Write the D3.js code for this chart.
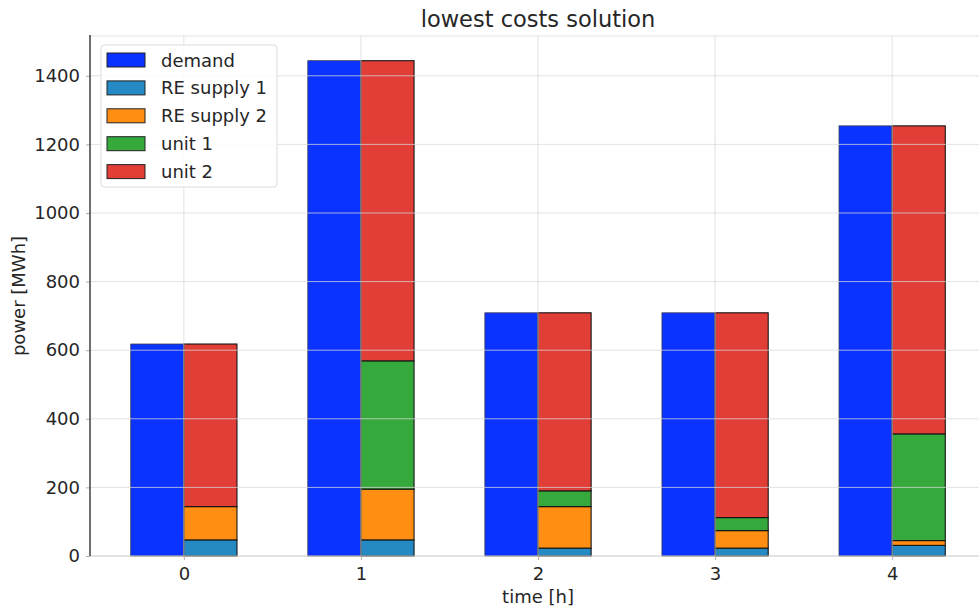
<!DOCTYPE html>
<html>
<head>
<meta charset="utf-8">
<script src="https://cdn.jsdelivr.net/npm/d3@7"></script>
<style>
  html, body { margin: 0; padding: 0; background: #fff; }
  svg { display: block; font-family: "DejaVu Sans", sans-serif; }
</style>
</head>
<body>
<svg id="chart" width="979" height="610"></svg>
<script>
// Hours of the dispatch horizon
const hours = [0, 1, 2, 3, 4];
// Demand per hour [MWh]
const demand = [618, 1444, 709, 709, 1254];
// Supply per source [MWh], stacked in this order
const reSupply1 = [47, 47, 23, 23, 31];
const reSupply2 = [97, 148, 121, 51, 14];
const unit1 = [0, 374, 46, 38, 311];
const unit2 = [474, 875, 519, 597, 898];
const yTicks = [0, 200, 400, 600, 800, 1000, 1200, 1400];

const seriesNames = ["RE supply 1", "RE supply 2", "unit 1", "unit 2"];
const seriesValues = [reSupply1, reSupply2, unit1, unit2];
const colors = {
  "demand": "#0a33ff",
  "RE supply 1": "#2589c4",
  "RE supply 2": "#ff8e12",
  "unit 1": "#35a93c",
  "unit 2": "#e03e37"
};

const svg = d3.select("#chart");
const plotLeft = 90, plotRight = 986, plotTop = 36, plotBottom = 556;
const barW = 0.3;
const textColor = "#262626";

const x = d3.scaleLinear().domain([-0.53, 4.53]).range([plotLeft, plotRight]);
const y = d3.scaleLinear().domain([0, 1516]).range([plotBottom, plotTop]);

// Stack table for the supply bars
const rows = hours.map((h, i) => {
  const r = { hour: h };
  seriesNames.forEach((n, k) => r[n] = seriesValues[k][i]);
  return r;
});
const stacked = d3.stack().keys(seriesNames)(rows);

// Demand bars (left of each tick)
svg.append("g").selectAll("rect").data(hours).join("rect")
  .attr("x", d => x(d - barW))
  .attr("width", x(barW) - x(0))
  .attr("y", (d, i) => y(demand[i]))
  .attr("height", (d, i) => y(0) - y(demand[i]))
  .attr("fill", colors["demand"])
  .attr("stroke", "#3a3a55").attr("stroke-width", 0.8);

// Supply stacks (right of each tick)
svg.append("g").selectAll("g").data(stacked).join("g")
  .attr("fill", s => colors[s.key])
  .selectAll("rect").data(s => s).join("rect")
  .attr("x", d => x(d.data.hour))
  .attr("width", x(barW) - x(0))
  .attr("y", d => y(d[1]))
  .attr("height", d => y(d[0]) - y(d[1]))
  .attr("stroke", "#151515").attr("stroke-width", 1.1);

// Grid over the bars
const grid = svg.append("g").attr("stroke", "#d8d8d8").attr("stroke-opacity", 0.75).attr("stroke-width", 1);
grid.selectAll("line.h").data(yTicks.slice(1)).join("line")
  .attr("x1", plotLeft).attr("x2", plotRight)
  .attr("y1", d => y(d)).attr("y2", d => y(d));
grid.selectAll("line.v").data(hours).join("line")
  .attr("x1", d => x(d)).attr("x2", d => x(d))
  .attr("y1", plotTop).attr("y2", plotBottom);

// Frame
svg.append("line").attr("x1", plotLeft).attr("x2", plotRight).attr("y1", plotTop).attr("y2", plotTop)
  .attr("stroke", "#e2e2e2");
svg.append("line").attr("x1", plotLeft).attr("x2", plotRight).attr("y1", plotBottom).attr("y2", plotBottom)
  .attr("stroke", "#c8c8c8").attr("stroke-width", 1.2);

// Axes
const yAxis = svg.append("g").attr("transform", `translate(${plotLeft},0)`)
  .call(d3.axisLeft(y).tickValues(yTicks).tickFormat(d3.format("d")).tickSize(4).tickPadding(6));
const xAxis = svg.append("g").attr("transform", `translate(0,${plotBottom})`)
  .call(d3.axisBottom(x).tickValues(hours).tickFormat(d3.format("d")).tickSize(4).tickPadding(7));
[yAxis, xAxis].forEach(a => {
  a.select(".domain").remove();
  a.selectAll(".tick line").attr("stroke", "#b0b0b0");
  a.selectAll(".tick text").attr("fill", textColor).style("font-size", "18px")
    .style("font-family", "'DejaVu Sans', sans-serif");
});
svg.append("line").attr("x1", plotLeft).attr("x2", plotLeft).attr("y1", plotTop - 1).attr("y2", plotBottom)
  .attr("stroke", "#222").attr("stroke-width", 1.3);

// Titles
svg.append("text").attr("x", 538).attr("y", 27).attr("text-anchor", "middle")
  .attr("fill", textColor).style("font-size", "22.5px").text("lowest costs solution");
svg.append("text").attr("x", 538).attr("y", 603).attr("text-anchor", "middle")
  .attr("fill", textColor).style("font-size", "18px").text("time [h]");
svg.append("text").attr("transform", `translate(25,296) rotate(-90)`)
  .attr("text-anchor", "middle").attr("fill", textColor).style("font-size", "18px").text("power [MWh]");

// Legend
const legendNames = ["demand"].concat(seriesNames);
const lg = svg.append("g");
lg.append("rect").attr("x", 101).attr("y", 45).attr("width", 176).attr("height", 142)
  .attr("rx", 3).attr("fill", "#fff").attr("fill-opacity", 0.85).attr("stroke", "#dcdcdc");
const item = lg.selectAll("g").data(legendNames).join("g")
  .attr("transform", (d, i) => `translate(107,${60 + i * 27.9})`);
item.append("rect").attr("x", 0).attr("y", -7).attr("width", 38).attr("height", 14)
  .attr("fill", d => colors[d]).attr("stroke", "#222").attr("stroke-width", 1);
item.append("text").attr("x", 54).attr("y", 6.5).attr("fill", textColor)
  .style("font-size", "18px").text(d => d);
</script>
</body>
</html>
